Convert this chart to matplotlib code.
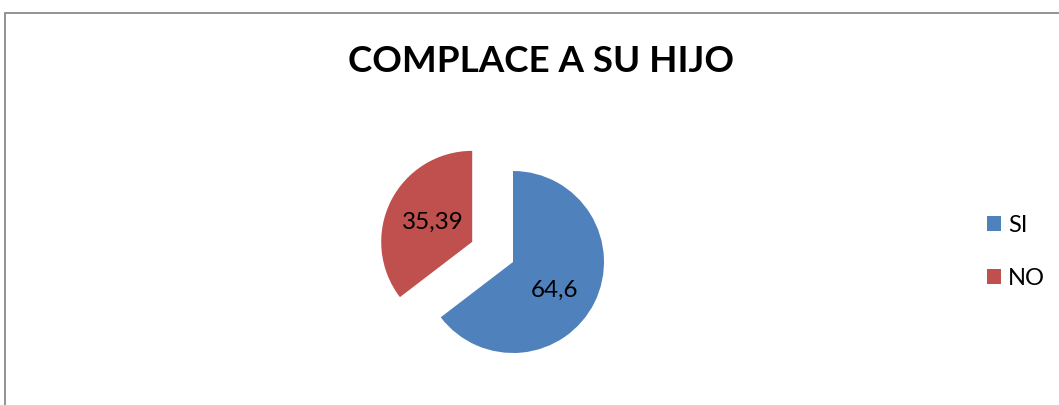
import matplotlib.pyplot as plt
from matplotlib.patches import Rectangle

# data
categories = ["SI", "NO"]
values = [64.6, 35.39]
value_labels = ["64,6", "35,39"]
colors = ["#4F81BD", "#C0504D"]
title = "COMPLACE A SU HIJO"

W, H = 1059, 405
fig = plt.figure(figsize=(W / 100, H / 100), dpi=100)
plt.rcParams['font.family'] = ['Lato', 'DejaVu Sans']

# chart border (right and bottom edges fall outside the image)
fig.add_artist(Rectangle((4.5 / W, -0.1), 2.0, (H - 12.5) / H + 0.1,
                         transform=fig.transFigure, fill=False,
                         edgecolor="#8a8a8a", linewidth=1.3))

ax = fig.add_axes([0, 0, 1, 1])
r = 91.0            # pie radius in pixels
cx, cy = 513.0, 262.0  # pie centre in pixels from top-left

wedges, texts = ax.pie(values, colors=colors, startangle=90, counterclock=False,
                       explode=[0, 0.5], labels=value_labels, labeldistance=0.48,
                       textprops=dict(fontsize=17.5, color="black", ha="center", va="center"),
                       wedgeprops=dict(linewidth=0))
# excel "best fit" puts the SI label a bit lower than the wedge middle
texts[0].set_position((0.46, -0.31))
ax.set_xlim(-cx / r, (W - cx) / r)
ax.set_ylim(-(H - cy) / r, cy / r)
ax.axis("off")

fig.text(541 / W, 1 - 62 / H, title, ha="center", va="center",
         fontsize=26.5, fontweight="bold")

leg = fig.legend(wedges, categories, loc="center left",
                 bbox_to_anchor=(987 / W, 1 - 252 / H), frameon=False,
                 borderpad=0, borderaxespad=0,
                 fontsize=17, handlelength=0.6, handleheight=0.6,
                 handletextpad=0.3, labelspacing=1.35)

fig.savefig("out.png", dpi=100, facecolor="white")
